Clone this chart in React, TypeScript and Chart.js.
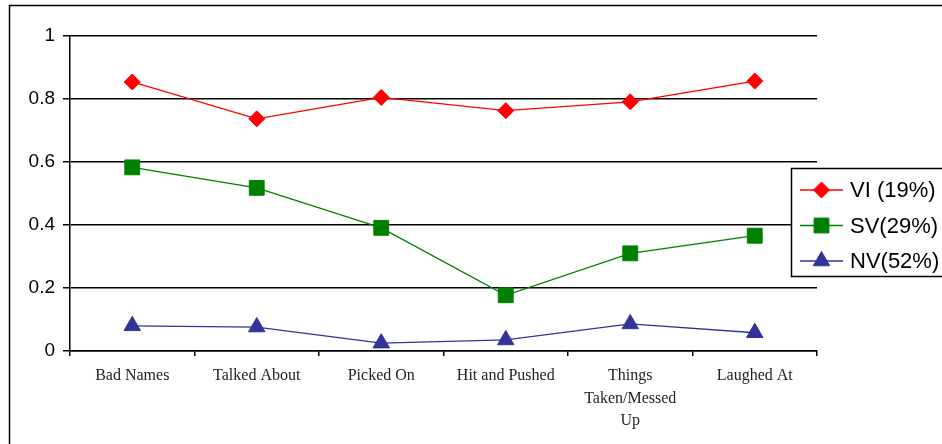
import React, { useEffect, useRef } from 'react';
import { Chart, registerables } from 'chart.js';
import { drawPoint } from 'chart.js/helpers';

Chart.register(...registerables);

const categories: string[][] = [
  ['Bad Names'],
  ['Talked About'],
  ['Picked On'],
  ['Hit and Pushed'],
  ['Things', 'Taken/Messed', 'Up'],
  ['Laughed At'],
];
const seriesNames = ['VI (19%)', 'SV(29%)', 'NV(52%)'];
const viValues = [0.854, 0.737, 0.805, 0.763, 0.791, 0.857];
const svValues = [0.583, 0.518, 0.391, 0.177, 0.31, 0.366];
const nvValues = [0.08, 0.076, 0.025, 0.035, 0.086, 0.058];
const yMin = 0;
const yMax = 1;
const yStep = 0.2;

const framePlugin = {
  id: 'frame',
  beforeDraw(chart: any) {
    const ctx = chart.ctx;
    ctx.save();
    ctx.fillStyle = '#ffffff';
    ctx.fillRect(0, 0, chart.width, chart.height);
    ctx.strokeStyle = '#000000';
    ctx.lineWidth = 1.5;
    ctx.strokeRect(9.5, 5.5, 1200, 1200);
    ctx.restore();
  },
};

const legendPlugin = {
  id: 'customLegend',
  afterDraw(chart: any) {
    const ctx = chart.ctx;
    ctx.save();
    ctx.fillStyle = '#ffffff';
    ctx.fillRect(791.5, 168.5, 300, 108);
    ctx.strokeStyle = '#000000';
    ctx.lineWidth = 1.5;
    ctx.strokeRect(791.5, 168.5, 300, 108);
    const rows = [190, 225.5, 261];
    chart.data.datasets.forEach((ds: any, i: number) => {
      const y = rows[i];
      ctx.strokeStyle = ds.borderColor;
      ctx.lineWidth = 1.3;
      ctx.beginPath();
      ctx.moveTo(800, y);
      ctx.lineTo(843, y);
      ctx.stroke();
      ctx.fillStyle = ds.pointBackgroundColor;
      ctx.strokeStyle = ds.pointBorderColor;
      ctx.lineWidth = 1;
      drawPoint(ctx, { pointStyle: ds.pointStyle, rotation: 0, borderWidth: 1, radius: ds.pointRadius }, 821.5, y);
      ctx.fillStyle = '#000000';
      ctx.font = '22px "Liberation Sans", Arial, sans-serif';
      ctx.textBaseline = 'middle';
      ctx.textAlign = 'left';
      ctx.fillText(ds.label, 850, y + 1);
    });
    ctx.restore();
  },
};

export default function App() {
  const ref = useRef<HTMLCanvasElement | null>(null);

  useEffect(() => {
    if (!ref.current) return;
    const chart = new Chart(ref.current, {
      type: 'line',
      data: {
        labels: categories,
        datasets: [
          {
            label: seriesNames[0],
            data: viValues,
            borderColor: '#ff0000',
            backgroundColor: '#ff0000',
            pointBackgroundColor: '#ff0000',
            pointBorderColor: '#ff0000',
            pointStyle: 'rectRot',
            pointRadius: 8,
            borderWidth: 1.3,
            pointBorderWidth: 1,
          },
          {
            label: seriesNames[1],
            data: svValues,
            borderColor: '#008000',
            backgroundColor: '#008000',
            pointBackgroundColor: '#008000',
            pointBorderColor: '#008000',
            pointStyle: 'rect',
            pointRadius: 10.5,
            borderWidth: 1.3,
            pointBorderWidth: 1,
          },
          {
            label: seriesNames[2],
            data: nvValues,
            borderColor: '#333399',
            backgroundColor: '#333399',
            pointBackgroundColor: '#333399',
            pointBorderColor: '#333399',
            pointStyle: 'triangle',
            pointRadius: 9.5,
            borderWidth: 1.3,
            pointBorderWidth: 1,
          },
        ] as any,
      },
      options: {
        animation: false,
        responsive: false,
        devicePixelRatio: 1,
        layout: { padding: { top: 36, right: 125, left: 0, bottom: 0 } },
        plugins: {
          legend: { display: false },
          tooltip: { enabled: false },
          title: { display: false },
        },
        scales: {
          x: {
            type: 'category',
            offset: true,
            afterFit(scale: any) {
              scale.height = 93;
            },
            grid: {
              display: true,
              drawOnChartArea: false,
              drawTicks: true,
              tickLength: 5,
              color: '#000000',
              lineWidth: 1.5,
              offset: true,
            },
            border: { display: true, color: '#000000', width: 1.5 },
            ticks: {
              color: '#222222',
              font: { family: '"Liberation Serif", "Times New Roman", serif', size: 16, lineHeight: 1.4 },
              padding: 9,
              maxRotation: 0,
              autoSkip: false,
            },
          },
          y: {
            min: yMin,
            max: yMax,
            afterFit(scale: any) {
              scale.width = 70;
            },
            grid: {
              color: '#000000',
              lineWidth: 1.5,
              tickLength: 7,
              drawTicks: true,
            },
            border: { display: true, color: '#000000', width: 1.5 },
            ticks: {
              stepSize: yStep,
              color: '#000000',
              font: { family: '"Liberation Sans", Arial, sans-serif', size: 19 },
              padding: 8,
              callback: (v: any) => String(Math.round(Number(v) * 10) / 10),
            },
          },
        },
      } as any,
      plugins: [framePlugin, legendPlugin],
    });
    return () => chart.destroy();
  }, []);

  return (
    <div style={{ position: 'fixed', left: 0, top: 0, width: 942, height: 444, background: '#fff' }}>
      <canvas ref={ref} width={942} height={444} style={{ width: 942, height: 444, display: 'block' }} />
    </div>
  );
}
